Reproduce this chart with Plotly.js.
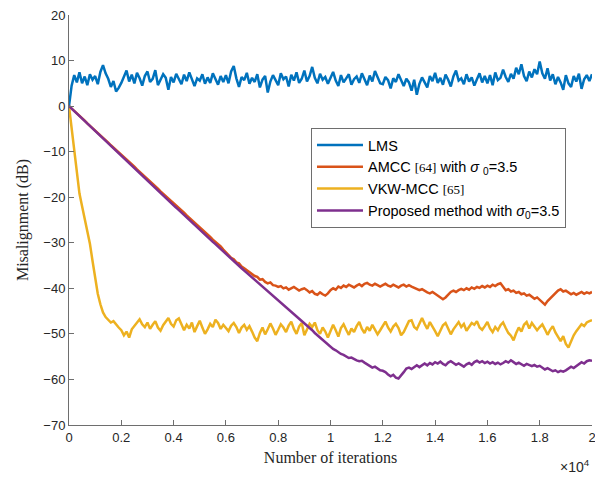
<!DOCTYPE html>
<html>
<head>
<meta charset="utf-8">
<script src="https://cdn.plot.ly/plotly-3.0.1.min.js"></script>
<style>html,body{margin:0;padding:0;background:#fff;}#chart{width:595px;height:481px;}</style>
</head>
<body>
<div id="chart"></div>
<script>
// Sampling grid: every 100 iterations from 0 to 20000
const step = 100;
const iterations = Array.from({length: 201}, (_, i) => i * step);

const seriesNames = [
  'LMS',
  'AMCC <span style="font-family:\'Liberation Serif\';font-size:13px">[64]</span> with <i>σ</i> <sub>0</sub>=3.5',
  'VKW-MCC <span style="font-family:\'Liberation Serif\';font-size:13px">[65]</span>',
  'Proposed method with <i>σ</i><sub>0</sub>=3.5'
];
const seriesColors = ['#0072BD', '#D95319', '#EDB120', '#7E2F8E'];

const lms = [
  0, 4.5, 6.8, 5.2, 7.4, 5.0, 6.5, 4.6, 7.0, 5.8,
  6.6, 4.8, 7.5, 9.0, 7.2, 6.0, 4.2, 5.5, 3.2, 4.0,
  5.1, 6.3, 7.8, 5.4, 6.9, 5.0, 7.3, 6.1, 4.5, 6.6,
  7.6, 5.3, 6.0, 7.9, 4.6, 5.8, 7.0, 6.2, 3.6, 6.4,
  5.2, 7.1, 6.0, 4.8, 6.9, 5.5, 7.4, 5.9, 4.4, 6.1,
  5.6, 7.0, 4.9, 6.3, 5.1, 7.2, 6.0, 4.7, 6.6, 5.3,
  6.8, 5.0, 7.6, 8.8, 6.1, 4.2, 6.4, 5.7, 7.3, 4.9,
  6.2, 5.3, 7.0, 4.1, 5.8, 6.6, 3.0, 5.4, 6.8, 5.5,
  4.6, 7.2, 5.9, 6.5, 4.3, 6.9, 5.6, 7.4, 5.1, 6.0,
  7.8, 5.4, 6.6, 8.6, 6.2, 5.0, 7.1, 5.8, 6.4, 4.9,
  6.3, 7.5, 5.6, 4.4, 6.8, 5.2, 6.1, 7.0, 4.7, 5.9,
  6.5, 5.1, 7.2, 6.0, 4.6, 6.7, 5.4, 7.7, 6.2, 5.0,
  4.8, 6.4, 5.7, 3.9, 6.1, 5.3, 7.0, 5.6, 4.4, 6.0,
  5.2, 3.4, 5.8, 2.5, 4.9, 6.3, 5.0, 4.1, 6.6, 5.5,
  7.3, 5.1, 6.2, 4.7, 6.9, 5.8, 4.3, 6.5, 7.8, 5.6,
  6.1, 4.8, 7.0, 5.4, 6.3, 4.5, 5.9, 7.2, 5.2, 6.6,
  5.0, 6.8, 4.6, 7.4, 5.7, 6.2, 8.0, 6.4, 5.3, 7.1,
  6.0, 8.4, 7.0, 9.2, 6.6, 5.5, 7.6, 6.3, 8.1, 7.0,
  9.8, 7.2, 6.0, 8.3, 5.6, 7.0, 4.8, 6.4, 5.2, 3.6,
  6.8, 5.0, 4.2, 6.6, 5.4, 7.1, 3.8, 5.9, 6.8, 5.5, 7.0
];

const amcc = [
  0, -0.5, -1.0, -1.6, -2.1, -2.7, -3.2, -3.8, -4.3, -4.9,
  -5.4, -5.9, -6.4, -7.0, -7.5, -8.0, -8.6, -9.1, -9.6, -10.2,
  -10.7, -11.2, -11.7, -12.3, -12.8, -13.3, -13.9, -14.4, -14.9, -15.5,
  -16.0, -16.5, -17.1, -17.6, -18.1, -18.7, -19.2, -19.7, -20.3, -20.8,
  -21.3, -21.8, -22.4, -22.9, -23.4, -24.0, -24.5, -25.0, -25.6, -26.1,
  -26.6, -27.1, -27.7, -28.2, -28.7, -29.3, -29.8, -30.2, -30.8, -31.5,
  -32.1, -32.5, -33.3, -33.6, -34.3, -34.5, -35.2, -35.6, -36.0, -36.6,
  -36.8, -37.3, -37.5, -38.1, -38.0, -38.6, -38.9, -38.7, -39.3, -39.4,
  -39.7, -39.5, -40.0, -39.8, -40.3, -40.0, -39.7, -40.1, -40.5, -40.2,
  -40.0, -40.4, -40.9, -40.6, -41.2, -41.4, -40.9, -41.3, -41.6, -41.1,
  -40.4, -40.0, -40.3, -39.6, -39.9, -39.4, -39.7, -39.2, -39.5, -39.8,
  -39.4, -39.1, -39.5, -39.0, -38.8, -39.2, -39.4, -39.0, -39.3, -39.6,
  -39.3, -39.0, -39.4, -39.6, -39.2, -39.5, -39.8, -39.4, -39.2, -39.6,
  -39.3, -39.6, -39.9, -40.1, -40.4, -40.2, -40.6, -40.9, -41.1, -40.8,
  -41.2, -41.6, -42.0, -42.4, -42.0, -41.3, -40.8, -40.5, -40.8, -40.4,
  -40.1, -40.4, -40.0, -40.3, -39.8, -40.1, -39.7, -39.9, -39.5, -39.8,
  -39.4, -39.7, -39.2, -39.5, -39.1, -38.9, -39.8, -40.4, -40.2, -40.7,
  -40.5, -41.0, -40.8, -41.3, -41.1, -41.6, -41.4, -41.9, -42.3, -42.0,
  -42.6, -43.0, -43.6, -42.8, -42.2, -41.6, -41.0, -40.5, -40.2, -40.7,
  -40.5, -40.9, -41.3, -41.0, -41.4, -41.1, -40.8, -41.2, -40.9, -41.1, -40.8
];

const vkwmcc = [
  0, -4.8, -9.6, -14.4, -19.2, -22.0, -24.8, -27.5, -30.2, -34.0,
  -38.0, -41.2, -43.5, -45.3, -46.3, -46.8, -47.5, -47.2, -48.0, -48.6,
  -49.2, -50.3, -49.5, -50.8, -49.0, -48.2, -47.6, -46.8, -47.9, -48.5,
  -47.5, -48.9, -48.0, -47.2, -48.6, -49.3, -48.1, -47.3, -46.5, -47.8,
  -48.4, -47.0, -46.6, -47.9, -49.2, -48.0, -48.8, -47.5, -49.6, -48.3,
  -47.1, -48.6, -50.0, -49.0, -47.8, -48.5, -46.9, -47.6, -48.9, -48.0,
  -48.7, -49.4, -48.2, -47.6, -48.5, -49.8, -48.6, -48.0, -49.1, -48.3,
  -49.5, -50.8, -51.6, -49.8, -48.6, -50.1, -49.0, -47.7, -48.8, -50.2,
  -49.1, -47.9, -48.6, -49.6, -48.2, -47.3, -48.9, -50.0, -48.4, -47.6,
  -50.3, -49.0, -47.8, -48.5, -47.5, -49.2, -50.0, -48.6, -49.5, -50.8,
  -49.4, -48.0, -49.2, -50.6, -48.7, -47.9, -49.1, -50.2, -48.8, -49.6,
  -48.3, -47.4, -48.9, -49.8, -48.5, -49.3, -48.0, -49.0, -50.1, -49.2,
  -48.1, -47.3, -48.6, -49.5, -48.4, -47.8, -48.7, -50.3, -49.6, -48.5,
  -47.2, -47.0, -48.5, -49.0, -47.6, -46.5, -47.8, -48.9, -47.4, -48.3,
  -49.4, -50.5, -49.2, -48.1, -47.6, -48.9, -50.1, -49.0, -48.2, -47.4,
  -48.5, -47.8, -49.3, -48.4, -47.6, -48.0, -47.2, -48.6, -49.1, -48.3,
  -47.4, -48.8, -49.6, -48.5, -49.2, -48.1, -47.5, -48.7, -49.8, -50.4,
  -51.4, -49.8, -48.6, -49.5, -48.0, -47.4, -48.8, -47.6, -48.3, -49.2,
  -48.5, -47.9, -49.0, -50.2, -49.1, -48.3, -49.7, -50.8, -51.6, -50.5,
  -52.2, -53.0, -51.5, -50.3, -49.4, -48.6, -47.9, -48.3, -47.5, -47.2, -47.0
];

const proposed = [
  0, -0.55, -1.1, -1.65, -2.2, -2.75, -3.3, -3.85, -4.4, -4.95,
  -5.5, -6.05, -6.6, -7.15, -7.7, -8.25, -8.8, -9.35, -9.9, -10.45,
  -11.0, -11.55, -12.1, -12.6, -13.1, -13.65, -14.2, -14.75, -15.3, -15.85,
  -16.4, -16.9, -17.45, -18.0, -18.55, -19.1, -19.6, -20.15, -20.7, -21.25,
  -21.8, -22.3, -22.85, -23.4, -23.9, -24.45, -25.0, -25.5, -26.05, -26.6,
  -27.1, -27.65, -28.2, -28.7, -29.25, -29.8, -30.3, -30.85, -31.4, -31.9,
  -32.45, -32.95, -33.5, -34.0, -34.55, -35.05, -35.6, -36.1, -36.6, -37.1,
  -37.6, -38.1, -38.6, -39.1, -39.6, -40.1, -40.6, -41.1, -41.6, -42.1,
  -42.6, -43.1, -43.6, -44.1, -44.6, -45.1, -45.6, -46.1, -46.6, -47.1,
  -47.6, -48.1, -48.6, -49.2, -49.8, -50.3, -50.9, -51.4, -51.8, -52.3,
  -52.8, -53.3, -53.6, -54.1, -54.4, -54.6, -55.0, -55.3, -55.2, -55.6,
  -55.8, -56.0, -55.9, -56.3, -56.7, -57.0, -57.4, -57.2, -57.6, -58.0,
  -58.1, -58.4, -58.9, -59.3, -59.0, -59.6, -59.8, -59.2, -58.4, -57.6,
  -57.4, -57.7, -57.2, -56.9, -57.3, -56.8, -56.5, -56.9, -56.4, -56.7,
  -56.2, -56.5, -56.1, -56.6, -56.9, -56.3, -56.0, -56.4, -56.8, -56.5,
  -56.9, -57.2, -56.7, -56.4, -56.8, -56.2, -55.9, -56.3, -56.0, -56.4,
  -56.1, -56.5, -56.2, -56.6, -56.3, -56.7, -56.4, -56.0, -56.3, -55.8,
  -56.2, -56.6, -56.3, -56.7, -57.0, -56.6, -56.9, -57.1, -56.8, -57.2,
  -57.0, -57.4, -57.8, -57.5, -57.9, -58.2, -58.0, -58.4, -58.1, -58.3,
  -58.0, -57.6, -57.2, -57.5, -57.0, -56.7, -56.2, -56.5, -56.0, -55.8, -55.9
];

const xTickVals = [0, 0.2, 0.4, 0.6, 0.8, 1, 1.2, 1.4, 1.6, 1.8, 2];
const xTickText = ['0', '0.2', '0.4', '0.6', '0.8', '1', '1.2', '1.4', '1.6', '1.8', '2'];
const yTickVals = [-70, -60, -50, -40, -30, -20, -10, 0, 10, 20];

const xScaled = iterations.map(v => v / 1e4);
const allSeries = [lms, amcc, vkwmcc, proposed];

const traces = allSeries.map((ys, k) => ({
  x: xScaled,
  y: ys,
  type: 'scatter',
  mode: 'lines',
  name: seriesNames[k],
  line: {color: seriesColors[k], width: 2.5}
}));

const axisColor = '#6e6e6e';
const tickFont = {family: 'Liberation Sans, Arial, sans-serif', size: 13, color: '#262626'};

const layout = {
  width: 595,
  height: 481,
  margin: {l: 69, r: 3, t: 15, b: 56},
  paper_bgcolor: '#ffffff',
  plot_bgcolor: '#ffffff',
  showlegend: true,
  xaxis: {
    range: [0, 2],
    tickvals: xTickVals,
    ticktext: xTickText,
    ticks: 'inside',
    ticklen: 5,
    tickcolor: axisColor,
    showline: true,
    linecolor: axisColor,
    linewidth: 1,
    showgrid: false,
    zeroline: false,
    tickfont: tickFont,
    ticklabeloverflow: 'allow',
    title: {text: 'Number of iterations', font: {family: 'Liberation Serif, Times New Roman, serif', size: 16, color: '#262626'}, standoff: 8}
  },
  yaxis: {
    range: [-70, 20],
    tickvals: yTickVals,
    ticks: 'inside',
    ticklen: 5,
    tickcolor: axisColor,
    showline: true,
    linecolor: axisColor,
    linewidth: 1,
    showgrid: false,
    zeroline: false,
    tickfont: tickFont,
    ticklabeloverflow: 'allow',
    title: {text: 'Misalignment (dB)', font: {family: 'Liberation Serif, Times New Roman, serif', size: 16, color: '#262626'}, standoff: 10}
  },
  legend: {
    x: 0.4627,
    y: 0.7244,
    xanchor: 'left',
    yanchor: 'top',
    bgcolor: '#ffffff',
    bordercolor: '#6e6e6e',
    borderwidth: 1,
    itemwidth: 46,
    font: {family: 'Liberation Sans, Arial, sans-serif', size: 14.5, color: '#000000'},
    tracegroupgap: 0
  },
  annotations: [{
    xref: 'paper', yref: 'paper',
    x: 1, y: -0.1,
    xanchor: 'right', yanchor: 'middle',
    text: '×10<sup>4</sup>',
    showarrow: false,
    font: {family: 'Liberation Sans, Arial, sans-serif', size: 14, color: '#262626'}
  }]
};

Plotly.newPlot('chart', traces, layout, {displayModeBar: false, staticPlot: true});
</script>
</body>
</html>
